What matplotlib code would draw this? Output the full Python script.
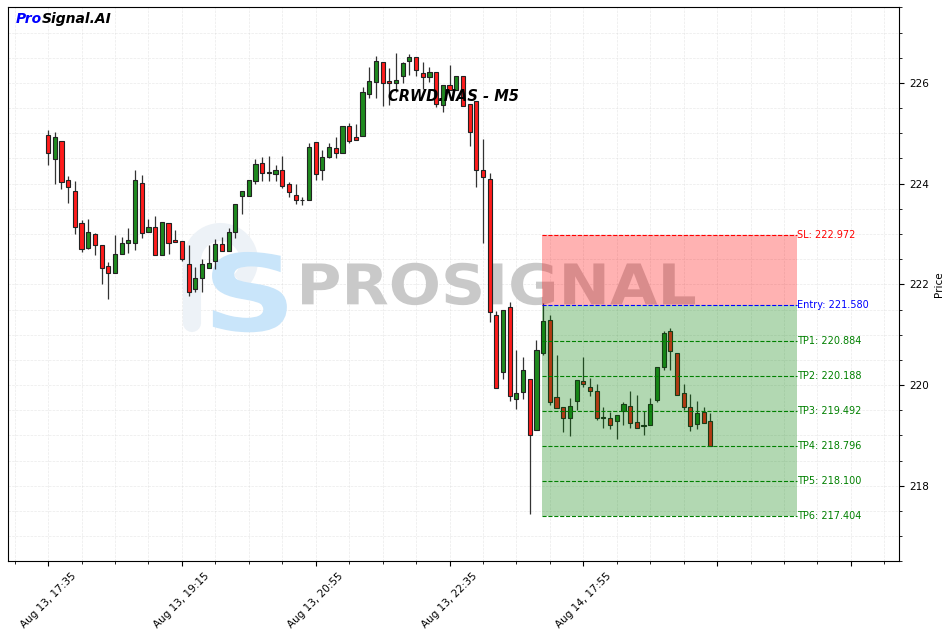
import pandas as pd
import matplotlib
matplotlib.use("Agg")
import matplotlib.pyplot as plt
from matplotlib.ticker import MultipleLocator, FuncFormatter
from matplotlib.patches import Arc, PathPatch
from matplotlib.textpath import TextPath
from matplotlib.font_manager import FontProperties
from matplotlib.transforms import Affine2D

# CRWD.NAS M5 candles
opens = [224.97, 224.48, 224.85, 224.08, 223.85, 223.21, 222.72, 222.99, 222.78, 222.36,
         222.23, 222.61, 222.83, 222.83, 224.02, 223.03, 223.14, 222.58, 223.21, 222.88,
         222.86, 222.41, 221.90, 222.13, 222.33, 222.46, 222.81, 222.66, 223.03, 223.76,
         223.76, 224.06, 224.42, 224.22, 224.20, 224.27, 223.99, 223.77, 223.67, 223.67,
         224.83, 224.27, 224.53, 224.70, 224.60, 225.14, 224.93, 224.95, 225.78, 226.01,
         226.41, 226.04, 225.99, 226.14, 226.44, 226.51, 226.19, 226.11, 226.21, 225.56,
         225.96, 225.87, 226.14, 225.58, 225.64, 224.27, 224.10, 221.40, 220.26, 221.55,
         219.73, 219.87, 220.12, 219.10, 220.64, 221.30, 219.76, 219.56, 219.35, 219.68,
         220.07, 219.96, 219.89, 219.35, 219.35, 219.29, 219.49, 219.59, 219.27, 219.19,
         219.21, 219.71, 220.35, 221.07, 220.64, 219.85, 219.56, 219.22, 219.47, 219.29]
highs = [225.07, 225.02, 224.85, 224.15, 224.05, 223.27, 223.29, 223.01, 222.78, 222.45,
         222.98, 222.94, 223.11, 224.28, 224.17, 223.29, 223.36, 223.23, 223.21, 223.08,
         222.86, 222.78, 222.34, 222.51, 222.79, 222.91, 222.94, 223.11, 223.59, 223.85,
         224.07, 224.49, 224.52, 224.55, 224.38, 224.55, 224.04, 224.00, 223.73, 224.81,
         224.83, 224.67, 224.80, 224.93, 225.14, 225.20, 225.18, 225.91, 226.32, 226.54,
         226.41, 226.29, 226.59, 226.42, 226.58, 226.51, 226.42, 226.32, 226.21, 225.95,
         226.36, 226.13, 226.14, 225.58, 225.64, 224.89, 224.22, 221.48, 221.50, 221.65,
         220.70, 220.55, 220.12, 220.90, 221.62, 221.40, 220.60, 219.56, 219.75, 220.09,
         220.55, 220.14, 220.02, 219.57, 219.46, 219.41, 219.66, 219.89, 219.81, 219.49,
         219.75, 220.35, 221.07, 221.13, 220.64, 220.02, 219.82, 219.69, 219.56, 219.45]
lows = [224.37, 224.00, 223.89, 223.61, 222.99, 222.64, 222.71, 222.58, 222.01, 221.70,
        222.23, 222.61, 222.63, 222.68, 222.93, 223.03, 222.58, 222.58, 222.60, 222.84,
        222.46, 221.77, 221.84, 221.84, 222.33, 222.30, 222.66, 222.66, 222.93, 223.39,
        223.76, 223.99, 224.06, 224.05, 224.05, 223.92, 223.73, 223.59, 223.57, 223.67,
        224.07, 224.08, 224.50, 224.50, 224.60, 224.81, 224.87, 224.95, 225.70, 225.71,
        225.55, 225.56, 225.83, 225.99, 226.16, 226.13, 225.89, 226.01, 225.53, 225.42,
        225.87, 225.87, 225.55, 224.75, 223.94, 222.82, 221.25, 219.94, 220.12, 219.69,
        219.53, 219.73, 217.44, 219.10, 220.59, 219.61, 219.55, 219.06, 218.98, 219.51,
        219.97, 219.79, 219.31, 219.15, 219.13, 218.93, 219.21, 219.15, 219.15, 219.01,
        219.21, 219.66, 220.30, 220.30, 219.81, 219.51, 219.08, 219.13, 219.24, 218.79]
closes = [224.60, 224.92, 224.04, 223.94, 223.14, 222.71, 223.03, 222.79, 222.33, 222.23,
          222.61, 222.83, 222.88, 224.07, 223.01, 223.14, 222.58, 223.23, 222.83, 222.84,
          222.51, 221.84, 222.13, 222.40, 222.43, 222.81, 222.66, 223.03, 223.59, 223.85,
          224.07, 224.40, 224.22, 224.23, 224.27, 223.95, 223.84, 223.67, 223.68, 224.73,
          224.19, 224.52, 224.72, 224.60, 225.14, 224.85, 224.87, 225.82, 226.04, 226.44,
          225.99, 225.99, 226.06, 226.39, 226.51, 226.26, 226.11, 226.21, 225.58, 225.95,
          225.87, 226.13, 225.55, 225.03, 224.27, 224.14, 221.45, 219.94, 221.50, 219.79,
          219.85, 220.30, 219.00, 220.70, 221.28, 219.66, 219.55, 219.35, 219.59, 220.09,
          220.02, 219.89, 219.35, 219.36, 219.21, 219.41, 219.63, 219.25, 219.15, 219.20,
          219.63, 220.35, 221.04, 220.67, 219.81, 219.56, 219.18, 219.45, 219.24, 218.79]

# bar times: Aug 13 session then Aug 14 session
times = list(pd.date_range("2025-08-13 17:35", "2025-08-13 22:55", freq="5min")) + \
        list(pd.date_range("2025-08-14 16:40", periods=35, freq="5min"))

entry = 221.580
sl = 222.972
tps = [220.884, 220.188, 219.492, 218.796, 218.100, 217.404]
zone_start, zone_end = 73.9, 112

fig = plt.figure(figsize=(9.47, 6.32), dpi=100)
ax = fig.add_axes([0.0084, 0.112, 0.941, 0.877])


def boxed_text(s, x0, x1, y0, y1, **kw):
    # text stretched into a box given in axes fractions
    tp = TextPath((0, 0), s, size=10, prop=FontProperties(family="DejaVu Sans", weight="bold"))
    bb = tp.get_extents()
    tr = Affine2D().translate(-bb.x0, -bb.y0).scale((x1 - x0) / bb.width, (y1 - y0) / bb.height)
    tr = tr.translate(x0, y0)
    ax.add_patch(PathPatch(tr.transform_path(tp), transform=ax.transAxes, lw=0, **kw))


# watermark (below the candles)
ax.add_patch(Arc((0.2385, 0.5424), 0.064, 0.103, theta1=-60, theta2=180, transform=ax.transAxes,
                 color="#edf2f7", linewidth=13, zorder=1))
ax.plot([0.207, 0.207], [0.5424, 0.43], transform=ax.transAxes, color="#edf2f7",
        linewidth=13, solid_capstyle="round", zorder=1)
boxed_text("S", 0.229, 0.313, 0.413, 0.558, color="#c9e5fa", zorder=1.1)
boxed_text("PROSIGNAL", 0.330, 0.771, 0.462, 0.5385, color="#c9c9c9", zorder=1.1)

x = list(range(len(opens)))
up = [c >= o for o, c in zip(opens, closes)]
cols = ["#1f8a1f" if u else "#ff1c1c" for u in up]
bottoms = [min(o, c) for o, c in zip(opens, closes)]
heights = [max(abs(c - o), 0.012) for o, c in zip(opens, closes)]

ax.vlines(x, lows, highs, color="#333333", linewidth=0.9, zorder=2)
ax.bar(x, heights, bottom=bottoms, width=0.62, color=cols, edgecolor="#222222",
       linewidth=0.8, zorder=2.1)

# trade zones
ax.fill_between([zone_start, zone_end], entry, sl, color="red", alpha=0.3, lw=0, zorder=3)
ax.fill_between([zone_start, zone_end], tps[-1], entry, color="green", alpha=0.3, lw=0, zorder=3)
ax.hlines(sl, zone_start, zone_end, colors="red", linestyles="--", linewidth=0.8, zorder=4)
ax.hlines(entry, zone_start, zone_end, colors="blue", linestyles="--", linewidth=0.8, zorder=4)
ax.text(zone_end, sl, "SL: %.3f" % sl, color="red", fontsize=7, va="center", ha="left", zorder=5)
ax.text(zone_end, entry, "Entry: %.3f" % entry, color="blue", fontsize=7, va="center", ha="left", zorder=5)
for k, tp in enumerate(tps):
    ax.hlines(tp, zone_start, zone_end, colors="green", linestyles="--", linewidth=0.8, zorder=4)
    ax.text(zone_end, tp, "TP%d: %.3f" % (k + 1, tp), color="green", fontsize=7,
            va="center", ha="left", zorder=5)

ax.text(0.5, 0.838, "CRWD.NAS - M5", transform=ax.transAxes, fontsize=10.5,
        fontweight="bold", fontstyle="italic", ha="center", va="center", zorder=6)
t1 = ax.text(0.009, 0.99, "Pro", transform=ax.transAxes, fontsize=10, fontweight="bold",
             fontstyle="italic", color="blue", ha="left", va="top", zorder=6)
ax.annotate("Signal.AI", xy=(1, 0), xycoords=t1, fontsize=10, fontweight="bold",
            fontstyle="italic", color="black", ha="left", va="bottom", zorder=6)

ax.set_xlim(-6, 127.2)
ax.set_ylim(216.5, 227.51)
ax.xaxis.set_major_locator(MultipleLocator(20))
ax.xaxis.set_minor_locator(MultipleLocator(5))
ax.yaxis.set_major_locator(MultipleLocator(2))
ax.yaxis.set_minor_locator(MultipleLocator(0.5))


def fmt(v, pos):
    i = int(round(v))
    if 0 <= i < len(times):
        return times[i].strftime("%b %d, %H:%M")
    return ""


ax.xaxis.set_major_formatter(FuncFormatter(fmt))
ax.yaxis.tick_right()
ax.yaxis.set_label_position("right")
ax.set_ylabel("Price", fontsize=7.5)
ax.tick_params(axis="both", which="major", labelsize=7.5, length=3.5)
ax.tick_params(axis="both", which="minor", length=2)
plt.setp(ax.get_xticklabels(), rotation=45)
ax.grid(True, which="both", linestyle="--", linewidth=0.5, color="#cccccc", alpha=0.4)
ax.set_axisbelow(True)

fig.savefig("out.png", dpi=100)
